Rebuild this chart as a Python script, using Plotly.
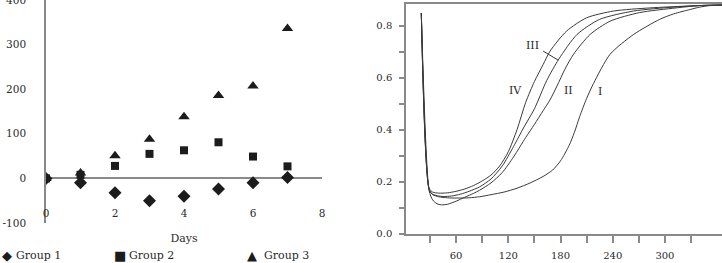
import plotly.graph_objects as go

# ---------------- Left chart data ----------------
days = [0, 1, 2, 3, 4, 5, 6, 7]
group1 = [0, -10, -32, -50, -40, -24, -10, 2]
group2 = [0, 8, 28, 55, 63, 81, 49, 27]
group3 = [0, 12, 51, 88, 138, 186, 207, 336]
left_yticks = [-100, 0, 100, 200, 300, 400]
left_yticktext = ["-100", "0", "100", "200", "300", "400"]
left_xticks = [0, 2, 4, 6, 8]

# ---------------- Right chart data ----------------
t_I = [20, 29, 33, 40, 50, 60, 75, 87, 100, 115, 130, 145, 160, 171, 180, 190, 196, 202, 210, 218, 237, 264, 294, 310, 329, 340, 352, 366]
v_I = [0.848, 0.17, 0.15, 0.142, 0.138, 0.137, 0.138, 0.142, 0.15, 0.16, 0.175, 0.195, 0.22, 0.245, 0.28, 0.34, 0.39, 0.45, 0.52, 0.578, 0.69, 0.766, 0.824, 0.845, 0.862, 0.871, 0.877, 0.879]

t_II = [20, 29, 33, 38, 43, 50, 60, 70, 80, 87, 100, 113, 126, 140, 150, 160, 168, 176, 185, 195, 214, 237, 271, 313, 340, 366]
v_II = [0.848, 0.165, 0.13, 0.115, 0.111, 0.113, 0.125, 0.14, 0.155, 0.167, 0.195, 0.235, 0.295, 0.37, 0.42, 0.473, 0.515, 0.568, 0.632, 0.69, 0.766, 0.817, 0.85, 0.868, 0.877, 0.879]

t_III = [20, 29, 33, 40, 45, 55, 65, 75, 87, 100, 113, 126, 138, 150, 164, 178, 199, 225, 264, 310, 340, 366]
v_III = [0.848, 0.17, 0.152, 0.145, 0.143, 0.145, 0.152, 0.163, 0.18, 0.21, 0.26, 0.335, 0.41, 0.48, 0.588, 0.671, 0.766, 0.824, 0.856, 0.871, 0.877, 0.879]

t_IV = [20, 29, 33, 40, 50, 60, 70, 80, 90, 100, 110, 120, 130, 140, 150, 160, 168, 187, 210, 241, 283, 325, 350, 366]
v_IV = [0.848, 0.175, 0.16, 0.156, 0.157, 0.163, 0.172, 0.185, 0.203, 0.225, 0.26, 0.315, 0.4, 0.505, 0.585, 0.65, 0.702, 0.779, 0.83, 0.856, 0.868, 0.875, 0.878, 0.879]

curve_names = ["I", "II", "III", "IV"]
label_t = [225, 189, 148, 128]
label_v = [0.545, 0.55, 0.725, 0.55]

right_xtickvals = [30, 60, 90, 120, 150, 180, 210, 240, 270, 300, 330]
right_xticktext = ["", "60", "", "120", "", "180", "", "240", "", "300", ""]
right_ytickvals = [0, 0.1, 0.2, 0.3, 0.4, 0.5, 0.6, 0.7, 0.8]
right_yticktext = ["0.0", "", "0.2", "", "0.4", "", "0.6", "", "0.8"]

legend_names = ["Group 1", "Group 2", "Group 3"]
legend_symbols = ["◆", "■", "▲"]

FONT = "DejaVu Serif"
AXC = "#8a8a8a"
MK = "#1c1c1c"
LC = "#3a3a3a"
TXT = "#2a2a2a"

fig = go.Figure()

fig.add_trace(go.Scatter(x=days, y=group1, mode="markers", name=legend_names[0],
                         marker=dict(symbol="diamond", size=10, color=MK), xaxis="x", yaxis="y"))
fig.add_trace(go.Scatter(x=days, y=group2, mode="markers", name=legend_names[1],
                         marker=dict(symbol="square", size=8, color=MK), xaxis="x", yaxis="y"))
fig.add_trace(go.Scatter(x=days, y=group3, mode="markers", name=legend_names[2],
                         marker=dict(symbol="triangle-up", size=10, color=MK), xaxis="x", yaxis="y"))

for tt, vv, nm in [(t_I, v_I, "I"), (t_II, v_II, "II"), (t_III, v_III, "III"), (t_IV, v_IV, "IV")]:
    fig.add_trace(go.Scatter(x=tt, y=vv, mode="lines", name=nm, showlegend=False,
                             line=dict(color=LC, width=1, shape="spline", smoothing=0.7),
                             xaxis="x2", yaxis="y2"))

W, H = 722, 263

fig.update_layout(
    width=W, height=H,
    margin=dict(l=0, r=0, t=0, b=0, autoexpand=False),
    paper_bgcolor="white", plot_bgcolor="white",
    showlegend=False,
    font=dict(family=FONT, size=11, color=TXT),
    xaxis=dict(domain=[46 / W, 322 / W], range=[0, 8], tickvals=left_xticks,
               showline=False, showgrid=False, zeroline=False, ticks="",
               anchor="free", position=(H - 205) / H, automargin=False,
               tickfont=dict(size=10.5, color=TXT),
               title=dict(text="Days", font=dict(size=11, color=TXT), standoff=16)),
    yaxis=dict(domain=[(H - 223) / H, 1.0], range=[-100, 400], tickvals=left_yticks,
               ticktext=left_yticktext, ticklabeloverflow="allow",
               showline=True, linecolor=AXC, linewidth=1.5, showgrid=False,
               zeroline=True, zerolinecolor=AXC, zerolinewidth=1.5, automargin=False,
               ticks="", ticklabelstandoff=16, tickfont=dict(size=10.5, color=TXT),
               anchor="x"),
    xaxis2=dict(domain=[406 / W, 1.0], range=[2.4, 365.6], tickvals=right_xtickvals,
                ticktext=right_xticktext, showline=True, linecolor=AXC, linewidth=1.5,
                mirror=True, showgrid=False, zeroline=False, ticks="outside", ticklen=8,
                tickcolor=AXC, tickwidth=1.5, anchor="y2", automargin=False,
                ticklabelstandoff=4, tickfont=dict(size=10, color=TXT)),
    yaxis2=dict(domain=[(H - 233.7) / H, (H - 4) / H], range=[0, 0.883],
                tickvals=right_ytickvals, ticktext=right_yticktext,
                showline=True, linecolor=AXC, linewidth=1.5, showgrid=False, zeroline=False,
                ticks="outside", ticklen=5, tickcolor=AXC, tickwidth=1.5, anchor="x2",
                automargin=False, ticklabelstandoff=5, tickfont=dict(size=10, color=TXT)),
)

# Curve labels
for nm, lt, lv in zip(curve_names, label_t, label_v):
    fig.add_annotation(x=lt, y=lv, xref="x2", yref="y2", text=nm, showarrow=False,
                       font=dict(family=FONT, size=11, color=TXT))
# leader line for III
fig.add_shape(type="line", xref="x2", yref="y2", x0=160, y0=0.702, x1=177.5, y1=0.667,
              line=dict(color=LC, width=1))

# Manual legend (symbol glyphs + names)
sym_x = [7, 120, 252]
txt_x = [14, 127, 262]
LEG_Y = (H - 255) / H
for sym, name, sx, tx in zip(legend_symbols, legend_names, sym_x, txt_x):
    fig.add_annotation(x=sx / W, y=LEG_Y, xref="paper", yref="paper", xanchor="center",
                       yanchor="middle", showarrow=False, text=sym,
                       font=dict(family="DejaVu Sans", size=13, color=MK))
    fig.add_annotation(x=tx / W, y=LEG_Y, xref="paper", yref="paper", xanchor="left",
                       yanchor="middle", showarrow=False, text=name,
                       font=dict(family=FONT, size=11, color=TXT))

fig.write_html("out.html")
